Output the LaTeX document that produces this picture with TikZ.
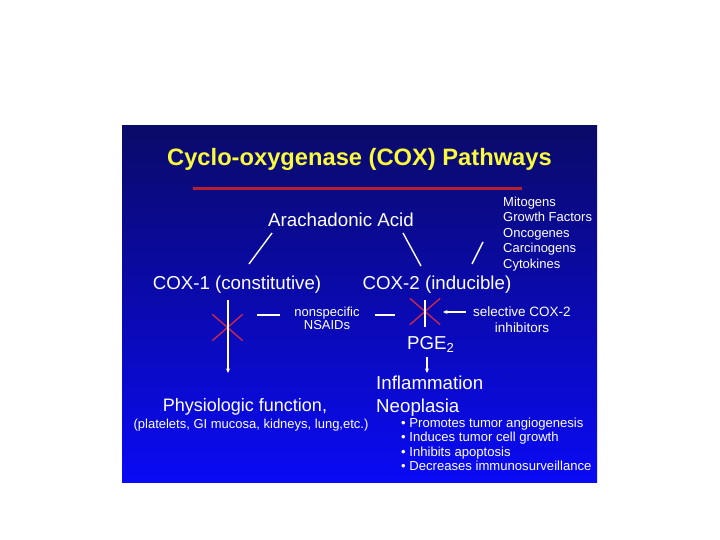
\documentclass[tikz,border=0pt]{standalone}
\usepackage{fontspec}
\setmainfont{Liberation Sans}
\usepackage{xcolor}
\usetikzlibrary{arrows.meta, shapes.misc}

\definecolor{fundotopo}{RGB}{10,10,105}
\definecolor{fundomeio}{RGB}{22,22,212}
\definecolor{fundobase}{RGB}{10,10,245}
\definecolor{titulo}{RGB}{250,250,60}
\definecolor{regua}{RGB}{185,30,45}
\definecolor{bloqueio}{RGB}{200,40,75}

\begin{document}
\begin{tikzpicture}[
    x=1pt, y=-1pt,
    every node/.style={inner sep=0pt, text=white},
    grande/.style={
        font=\fontsize{18.7}{22}\selectfont
    },
    pequeno/.style={
        font=\fontsize{13}{15.5}\selectfont
    },
    ligacao/.style={
        draw=white,
        line width=1.4pt
    },
    seta/.style={
        ligacao,
        -{Stealth[length=4.5pt,width=4pt]}
    },
    traco/.style={
        draw=white,
        line width=2.6pt
    },
    cruz/.style={
        cross out,
        draw=bloqueio,
        line width=1.4pt,
        minimum width=29pt,
        minimum height=25pt
    }
]

\useasboundingbox (0,0) rectangle (720,540);

% ============================================================
% FUNDO
% ============================================================

\shade[
    top color=fundotopo,
    middle color=fundomeio,
    bottom color=fundobase
] (122,126) rectangle (597,482);

% ============================================================
% TÍTULO
% ============================================================

\node[
    anchor=base,
    text=titulo,
    font=\fontsize{23.7}{28}\selectfont\bfseries
] (title) at (359.5,165.5)
{Cyclo-oxygenase (COX) Pathways};

\draw[
    draw=regua,
    line width=3pt
]
(193,189) -- (522,189);

% ============================================================
% ENZIMAS
% ============================================================

\node[grande, anchor=base] (acid) at (341,226)
{Arachadonic Acid};

\node[
    pequeno,
    anchor=north west,
    align=left
] (stimuli) at (503,196.5)
{Mitogens\\Growth Factors\\Oncogenes\\Carcinogens\\Cytokines};

\node[grande, anchor=base] (cox1) at (237,289)
{COX-1 (constitutive)};

\node[grande, anchor=base] (cox2) at (437,289)
{COX-2 (inducible)};

% pontas das ligações
\coordinate (acidL) at (272,233);
\coordinate (cox1T) at (249,264);
\coordinate (acidR) at (403,233);
\coordinate (cox2T) at (421,266);
\coordinate (stimuliL) at (483,242);
\coordinate (cox2R) at (472,264);

\draw[ligacao] (acidL) -- (cox1T);
\draw[ligacao] (acidR) -- (cox2T);
\draw[ligacao] (stimuliL) -- (cox2R);

% ============================================================
% INIBIDORES
% ============================================================

\node[cruz] (block1) at (227.5,327.5) {};
\node[cruz] (block2) at (425,311.5) {};

\node[
    font=\fontsize{13}{13.5}\selectfont,
    align=center
] (nsaids) at (327,318.5)
{nonspecific\\NSAIDs};

\node[
    font=\fontsize{13.5}{16}\selectfont,
    align=center
] (selective) at (522,320)
{selective COX-2\\inhibitors};

\coordinate (cox1B) at (228,300);
\coordinate (physioT) at (228,373);
\coordinate (cox2B) at (425,300);
\coordinate (pgeT) at (425,327);
\coordinate (selL) at (466,312);
\coordinate (block2R) at (443,312);

\draw[seta] (cox1B) -- (physioT);
\draw[ligacao] (cox2B) -- (pgeT);
\draw[seta] (selL) -- (block2R);

% traços
\coordinate (bar1a) at (257,315);
\coordinate (bar1b) at (280,315);
\coordinate (bar2a) at (375,315);
\coordinate (bar2b) at (395,315);

\draw[traco] (bar1a) -- (bar1b);
\draw[traco] (bar2a) -- (bar2b);

% ============================================================
% EFEITOS
% ============================================================

\node[grande, anchor=base west] (pge) at (407,349)
{PGE\textsubscript{2}};

\node[grande, anchor=base west] (inflam) at (376,389)
{Inflammation};

\node[grande, anchor=base west] (neo) at (376,412)
{Neoplasia};

\coordinate (pgeB) at (427,357);
\coordinate (inflamT) at (427,373);
\draw[seta] (pgeB) -- (inflamT);

\node[
    font=\fontsize{13.1}{14.3}\selectfont,
    anchor=north west,
    align=left
] (effects) at (401,418)
{• Promotes tumor angiogenesis\\
• Induces tumor cell growth\\
• Inhibits apoptosis\\
• Decreases immunosurveillance};

\node[
    anchor=base,
    font=\fontsize{18}{21}\selectfont
] (physio) at (245,411.5)
{Physiologic function,};

\node[pequeno, anchor=base] (organs) at (251,428.7)
{(platelets, GI mucosa, kidneys, lung,etc.)};

\end{tikzpicture}
\end{document}
